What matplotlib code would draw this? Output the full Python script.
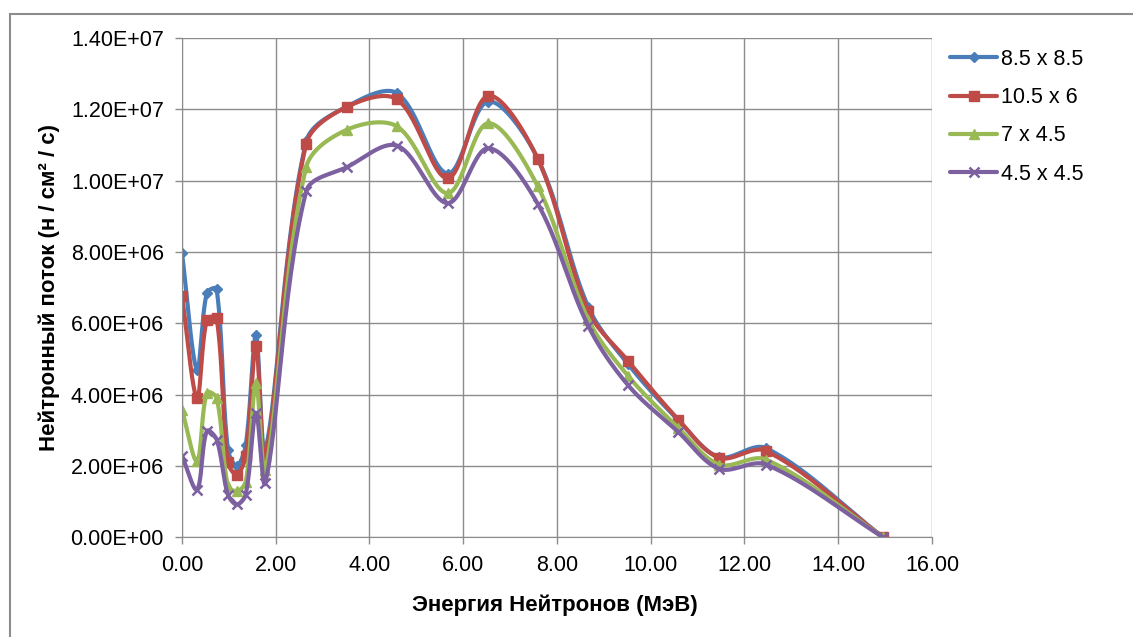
import numpy as np
import matplotlib.pyplot as plt
from matplotlib.patches import Rectangle
from matplotlib.ticker import FormatStrFormatter, MultipleLocator

plt.rcParams['font.family'] = ['Liberation Sans', 'DejaVu Sans']

# энергия, МэВ
energy = [0.0, 0.32, 0.53, 0.74, 0.98, 1.17, 1.36, 1.58, 1.78, 2.65, 3.52,
          4.59, 5.67, 6.53, 7.59, 8.67, 9.52, 10.59, 11.46, 12.46, 14.96]

# поток, 1e6 н/см2/с
flux_85x85 = [7.97, 4.70, 6.85, 6.96, 2.46, 2.00, 2.58, 5.66, 2.46, 11.10, 12.08,
              12.45, 10.20, 12.22, 10.62, 6.45, 4.85, 3.28, 2.25, 2.50, 0.0]
flux_105x6 = [6.76, 3.91, 6.10, 6.15, 2.10, 1.76, 2.28, 5.36, 2.28, 11.03, 12.07,
              12.28, 10.07, 12.38, 10.61, 6.34, 4.94, 3.30, 2.23, 2.42, 0.0]
flux_7x45 = [3.58, 2.14, 4.05, 3.91, 1.44, 1.30, 1.54, 4.33, 1.90, 10.38, 11.43,
             11.52, 9.65, 11.61, 9.84, 6.10, 4.52, 3.07, 2.04, 2.18, 0.0]
flux_45x45 = [2.28, 1.34, 2.98, 2.74, 1.20, 0.92, 1.20, 3.49, 1.53, 9.70, 10.38,
              10.98, 9.37, 10.91, 9.35, 5.92, 4.26, 2.95, 1.92, 2.04, 0.0]

labels = ['8.5 x 8.5', '10.5 x 6', '7 x 4.5', '4.5 x 4.5']
colors = ['#4A7EBB', '#BE4B48', '#98B954', '#7D60A0']
markers = ['D', 's', '^', 'x']
msizes = [5.5, 7.5, 7.5, 6.5]

# масштаб осей в пикселях (для сглаживания в экранных координатах)
SX, SY = 46.875, 35.67e-6


def smooth(x, y, n=30):
    # сглаживание кривыми Безье, касательные взвешены по длинам отрезков
    p = np.column_stack([np.asarray(x) * SX, np.asarray(y) * SY]).astype(float)
    ext = np.vstack([p[0], p, p[-1]])
    t = np.linspace(0, 1, n, endpoint=False)[:, None]
    out = []
    for i in range(len(p) - 1):
        p0, p1, p2, p3 = ext[i], ext[i + 1], ext[i + 2], ext[i + 3]
        d01 = np.hypot(*(p1 - p0))
        d12 = np.hypot(*(p2 - p1))
        d23 = np.hypot(*(p3 - p2))
        k1 = d12 / (d01 + d12) / 3 if d01 + d12 > 0 else 0
        k2 = d12 / (d12 + d23) / 3 if d12 + d23 > 0 else 0
        c1 = p1 + (p2 - p0) * k1
        c2 = p2 - (p3 - p1) * k2
        seg = ((1 - t) ** 3 * p1 + 3 * (1 - t) ** 2 * t * c1
               + 3 * (1 - t) * t ** 2 * c2 + t ** 3 * p2)
        out.append(seg)
    out.append(p[-1:])
    out = np.vstack(out)
    return out[:, 0] / SX, out[:, 1] / SY, list(range(0, len(out), n))


fig = plt.figure(figsize=(11.33, 6.37), dpi=100)
ax = fig.add_axes([0.1606, 0.1565, 0.662, 0.7838])

for ys, lab, c, m, ms in zip([flux_85x85, flux_105x6, flux_7x45, flux_45x45],
                             labels, colors, markers, msizes):
    sx, sy, idx = smooth(energy, np.array(ys) * 1e6)
    ax.plot(sx, sy, color=c, lw=3, marker=m, ms=ms, markevery=idx,
            mec=c, mfc=c, mew=1.8 if m == 'x' else 1, label=lab,
            solid_capstyle='round')

ax.set_xlim(0, 16)
ax.set_ylim(0, 1.4e7)
ax.xaxis.set_major_locator(MultipleLocator(2))
ax.yaxis.set_major_locator(MultipleLocator(2e6))
ax.xaxis.set_major_formatter(FormatStrFormatter('%.2f'))
ax.yaxis.set_major_formatter(FormatStrFormatter('%.2E'))
ax.grid(True, color='#8C8C8C', lw=1)
ax.set_axisbelow(True)
for s in ['top', 'right']:
    ax.spines[s].set_visible(False)
for s in ['left', 'bottom']:
    ax.spines[s].set_color('#8C8C8C')
ax.tick_params(labelsize=15.5, length=5, width=1, color='#8C8C8C', pad=8)

ax.set_xlabel('Энергия Нейтронов (МэВ)', fontsize=16, fontweight='bold')
ax.xaxis.set_label_coords(0.497, -0.115)
ax.set_ylabel('Нейтронный поток (н / см² / с)', fontsize=16, fontweight='bold')
ax.yaxis.set_label_coords(-0.163, 0.5)

ax.legend(loc='upper left', bbox_to_anchor=(950 / 1133, 1 - 49 / 637),
          bbox_transform=fig.transFigure, frameon=False, fontsize=15.5,
          handlelength=2.2, handletextpad=0.15, labelspacing=0.8,
          borderpad=0, borderaxespad=0, numpoints=1)

fig.add_artist(Rectangle((10 / 1133, -0.1), 2, 1 - 14 / 637 + 0.1,
                         transform=fig.transFigure, fill=False,
                         ec='#8C8C8C', lw=1.5))

fig.savefig('out.png', dpi=100)
